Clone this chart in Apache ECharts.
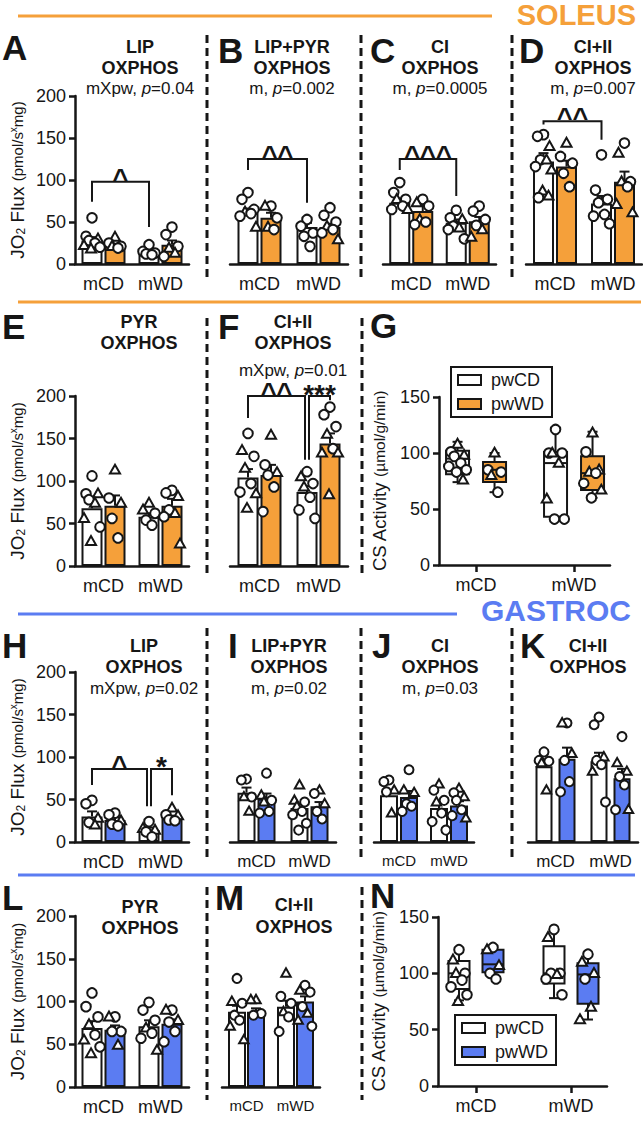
<!DOCTYPE html>
<html>
<head>
<meta charset="utf-8">
<script src="https://cdn.jsdelivr.net/npm/echarts@6/dist/echarts.min.js"></script>
<style>
  html, body { margin: 0; background: #fff; }
  #chart { width: 643px; height: 1121px; }
</style>
</head>
<body>
<div id="chart"></div>
<script>
const FONT = '"Liberation Sans", Arial, Helvetica, sans-serif';
const INK = '#161616';
const ORANGE = '#F5A03A';
const BLUE = '#5B7CF2';

const groups = ['mCD', 'mWD'];
const diets = ['pwCD', 'pwWD'];
// every array below is ordered [mCD-pwCD, mCD-pwWD, mWD-pwCD, mWD-pwWD]

// ---- SOLEUS ----
const aMean = [28, 21, 14, 23];
const aSem = [4, 3, 2, 5];
const aCirc = [[55, 33, 28, 25, 20], [25, 19, 21], [23, 13, 12, 15, 11], [44, 35, 21, 9]];
const aTri = [[30, 22, 18], [32, 21], [], [19, 13]];

const bMean = [61, 55, 44, 44];
const bSem = [5, 6, 5, 4];
const bCirc = [[85, 77, 65, 60, 57], [69, 55, 41], [53, 45, 37, 21, 33], [67, 58, 50, 41, 37]];
const bTri = [[62, 44], [69, 44], [], [29, 45]];

const cMean = [73, 63, 49, 51];
const cSem = [5, 6, 4, 5];
const cCirc = [[97, 85, 77, 69, 65], [77, 69, 47, 50], [64, 55, 45, 41, 30], [69, 63, 53, 46]];
const cTri = [[77, 65], [73, 53], [53, 43], [41, 32]];

const dMean = [122, 116, 72, 98];
const dSem = [10, 7, 9, 12];
const dCirc = [[154, 152, 124, 116, 79], [128, 120, 108, 92], [130, 88, 77, 73, 59, 57, 48], [144, 98, 92]];
const dTri = [[140, 124, 112, 87, 81], [144], [], [132, 98, 71, 61]];

const eMean = [68, 71, 58, 71];
const eSem = [8, 12, 4, 8];
const eCirc = [[106, 85, 78, 46], [80, 56, 33], [62, 54, 48], [89, 86, 66, 58]];
const eTri = [[85, 74, 56, 29], [113, 74], [74, 66], [82, 62, 26]];

const fMean = [104, 107, 87, 144];
const fSem = [10, 12, 7, 12];
const fCirc = [[156, 129, 97, 87], [119, 107, 93, 64], [111, 97, 81, 66, 56], [187, 178, 164, 138]];
const fTri = [[136, 115, 85, 68], [154, 110], [105, 93], [155, 133, 133, 84]];

// CS activity boxes: [min, q1, median, q3, max]
const gBox = [[74, 81, 95, 102, 110], [65, 74, 85, 92, 100], [40, 43, 91, 101, 121], [60, 67, 82, 97, 119]];
const gCirc = [[101, 97, 91, 85, 83, 88], [85, 83, 65], [121, 100, 100, 41, 41], [101, 82, 73, 60]];
const gTri = [[108, 98, 76], [100, 80], [100, 59, 91], [118, 85, 83, 67]];

// ---- GASTROC ----
const hMean = [30, 26, 14, 28];
const hSem = [6, 3, 3, 3];
const hCirc = [[49, 45, 23], [34, 32, 21, 19], [24, 12, 6], [26, 25, 32]];
const hTri = [[28, 20], [25], [16, 14], [40, 31]];

const iMean = [58, 51, 40, 42];
const iSem = [6, 6, 5, 5];
const iCirc = [[74, 73, 53], [81, 49, 36, 34], [47, 36, 32, 22, 14], [57, 36, 27]];
const iTri = [[53, 36], [55, 47], [67, 49, 42], [61, 45]];

const jMean = [55, 53, 40, 43];
const jSem = [6, 7, 6, 5];
const jCirc = [[73, 71, 59], [85, 45, 36, 42], [61, 49, 24, 14, 34], [58, 49, 38, 31]];
const jTri = [[61, 34], [61, 58], [68, 47], [63, 28, 53]];

const kMean = [89, 98, 95, 75];
const kSem = [6, 13, 10, 11];
const kCirc = [[106, 96, 95], [140, 96, 71, 59], [147, 138, 96, 91, 47], [124, 77, 67, 38]];
const kTri = [[93, 61], [140, 104], [83, 100], [93, 83, 38]];

const lMean = [69, 67, 71, 74];
const lSem = [8, 5, 7, 5];
const lCirc = [[110, 94, 82, 61, 47], [82, 65, 65], [99, 90, 78, 63, 57], [90, 76, 65, 53]];
const lTri = [[73, 55, 39], [82, 49], [43, 69], [90, 78]];

const mMean = [88, 88, 94, 100];
const mSem = [7, 4, 7, 6];
const mCirc = [[127, 98, 84, 78], [86, 84], [106, 98, 82, 65], [119, 111, 94, 71]];
const mTri = [[100, 71, 55], [102, 102], [133, 88], [113, 86, 78]];

const nBox = [[76, 86, 100, 111, 121], [98, 101, 108, 121, 123], [78, 91, 100, 124, 139], [59, 73, 99, 109, 117]];
const nCirc = [[121, 100, 94, 88, 81], [123, 100, 95], [139, 100, 100, 95, 81], [117, 95]];
const nTri = [[112, 100, 75], [121, 107], [132, 99], [110, 100, 70, 59]];

// significance brackets: [fromGroup, toGroup, top, leftEnd, rightEnd, nudgeL, nudgeR, label]
const aSig = [[0, 2, 98, 74, 44, 0, 0, '^']];
const bSig = [[0, 2, 125, 112, 73, 0, 0, '^^']];
const cSig = [[0, 2, 125, 112, 81, 0, 0, '^^^']];
const dSig = [[0, 2, 170, 166, 148, 0, 0, '^^']];
const fSig = [[0, 2, 200, 174, 125, 0, -2, '^^'], [2, 3, 200, 125, 195, 2, 0, '***']];
const hSig = [[0, 2, 86, 67, 42, 0, -2, '^'], [2, 3, 86, 42, 55, 2, 0, '*']];

// ---- layout ----
const barPanels = [
  { mean: aMean, sem: aSem, circ: aCirc, tri: aTri, sig: aSig, fill: ORANGE, left: 75, top: 96, width: 114, height: 168, bw: 21, gap: 2, lab: 18, r: 4.8, axis: true },
  { mean: bMean, sem: bSem, circ: bCirc, tri: bTri, sig: bSig, fill: ORANGE, left: 230, top: 96, width: 118, height: 168, bw: 21, gap: 2, lab: 18, r: 4.8 },
  { mean: cMean, sem: cSem, circ: cCirc, tri: cTri, sig: cSig, fill: ORANGE, left: 383, top: 96, width: 113, height: 168, bw: 21, gap: 2, lab: 18, r: 4.8 },
  { mean: dMean, sem: dSem, circ: dCirc, tri: dTri, sig: dSig, fill: ORANGE, left: 526, top: 96, width: 116, height: 168, bw: 21, gap: 2, lab: 18, r: 4.8 },
  { mean: eMean, sem: eSem, circ: eCirc, tri: eTri, fill: ORANGE, left: 75, top: 396, width: 114, height: 170, bw: 21, gap: 2, lab: 18, r: 4.8, axis: true },
  { mean: fMean, sem: fSem, circ: fCirc, tri: fTri, sig: fSig, fill: ORANGE, left: 230, top: 396, width: 118, height: 170, bw: 21, gap: 2, lab: 18, r: 4.8 },
  { mean: hMean, sem: hSem, circ: hCirc, tri: hTri, sig: hSig, fill: BLUE, left: 75, top: 672, width: 114, height: 170, bw: 21, gap: 2, lab: 18, r: 4.8, axis: true },
  { mean: iMean, sem: iSem, circ: iCirc, tri: iTri, fill: BLUE, left: 230, top: 672, width: 106, height: 170, bw: 18, gap: 2, lab: 17, r: 4.5 },
  { mean: jMean, sem: jSem, circ: jCirc, tri: jTri, fill: BLUE, left: 374, top: 672, width: 100, height: 170, bw: 18, gap: 2, lab: 15, r: 4.5 },
  { mean: kMean, sem: kSem, circ: kCirc, tri: kTri, fill: BLUE, left: 528, top: 672, width: 110, height: 170, bw: 17, gap: 6, lab: 17, r: 4.5 },
  { mean: lMean, sem: lSem, circ: lCirc, tri: lTri, fill: BLUE, left: 75, top: 916, width: 114, height: 171, bw: 21, gap: 2, lab: 18, r: 4.8, axis: true },
  { mean: mMean, sem: mSem, circ: mCirc, tri: mTri, fill: BLUE, left: 222, top: 916, width: 98, height: 171, bw: 18, gap: 1, lab: 15, r: 4.5 }
];
const boxPanels = [
  { box: gBox, circ: gCirc, tri: gTri, fill: ORANGE, left: 439, top: 397, width: 171, height: 168, xmin: -0.378, xmax: 1.367, bw: 23, gap: 14, r: 4.8,
    legend: { left: 451, top: 367 } },
  { box: nBox, circ: nCirc, tri: nTri, fill: BLUE, left: 438, top: 917, width: 169, height: 169, xmin: -0.4, xmax: 1.379, bw: 21, gap: 13, r: 4.8,
    legend: { left: 455, top: 1015 } }
];

const JIT = [0, -6, 6, -3, 3, -8, 8, -1, 5, -5];
const lineStyle = { stroke: INK, lineWidth: 2 };

function offsetOf(p, diet) {
  const off = (p.bw + p.gap) / 2;
  return diet ? off : -off;
}

function pointData(p) {
  const out = [];
  for (let g = 0; g < 4; g++) {
    const list = p.circ[g].map(v => [v, 0]).concat(p.tri[g].map(v => [v, 1]));
    list.sort((u, v) => v[0] - u[0]);
    list.forEach((d, j) => out.push([g >> 1, d[0], g & 1, d[1], j]));
  }
  return out;
}

function renderPoint(p) {
  return function (params, api) {
    const c = api.coord([api.value(0), api.value(1)]);
    const x = c[0] + offsetOf(p, api.value(2)) + JIT[api.value(4) % JIT.length] * p.bw / 21;
    const y = c[1], r = p.r;
    const style = { fill: '#fff', stroke: INK, lineWidth: 2 };
    if (api.value(3)) {
      return { type: 'polygon', shape: { points: [[x, y - r * 1.1], [x - r * 1.05, y + r * 0.75], [x + r * 1.05, y + r * 0.75]] }, style };
    }
    return { type: 'circle', shape: { cx: x, cy: y, r: r }, style };
  };
}

function renderErr(p) {
  return function (params, api) {
    const cat = api.value(0), mean = api.value(1), sem = api.value(2);
    const a = api.coord([cat, mean]), b = api.coord([cat, mean + sem]);
    const x = a[0] + offsetOf(p, api.value(3));
    const cap = 5;
    return { type: 'group', children: [
      { type: 'line', shape: { x1: x, y1: a[1], x2: x, y2: b[1] }, style: lineStyle },
      { type: 'line', shape: { x1: x - cap, y1: b[1], x2: x + cap, y2: b[1] }, style: lineStyle }
    ] };
  };
}

function renderSig(p) {
  return function (params, api) {
    const s = p.sig[params.dataIndex];
    const x1 = api.coord([s[0] >> 1, 0])[0] + offsetOf(p, s[0] & 1) + s[5];
    const x2 = api.coord([s[1] >> 1, 0])[0] + offsetOf(p, s[1] & 1) + s[6];
    const yt = api.coord([0, s[2]])[1], yl = api.coord([0, s[3]])[1], yr = api.coord([0, s[4]])[1];
    const star = s[7][0] === '*';
    return { type: 'group', children: [
      { type: 'polyline', shape: { points: [[x1, yl], [x1, yt], [x2, yt], [x2, yr]] }, style: { stroke: INK, lineWidth: 2, fill: null } },
      { type: 'text', x: (x1 + x2) / 2, y: yt - (star ? 2 : 3),
        style: { text: s[7], fill: INK, font: 'bold ' + (star ? 28 : 27) + 'px ' + FONT, align: 'center', verticalAlign: 'middle' } }
    ] };
  };
}

function renderBox(p, diet, fill) {
  return function (params, api) {
    const cat = api.value(0);
    const v = [1, 2, 3, 4, 5].map(i => api.coord([cat, api.value(i)]));
    const x = v[0][0] + offsetOf(p, diet), hw = p.bw / 2, cw = 5;
    return { type: 'group', children: [
      { type: 'line', shape: { x1: x, y1: v[0][1], x2: x, y2: v[1][1] }, style: lineStyle },
      { type: 'line', shape: { x1: x, y1: v[3][1], x2: x, y2: v[4][1] }, style: lineStyle },
      { type: 'line', shape: { x1: x - cw, y1: v[0][1], x2: x + cw, y2: v[0][1] }, style: lineStyle },
      { type: 'line', shape: { x1: x - cw, y1: v[4][1], x2: x + cw, y2: v[4][1] }, style: lineStyle },
      { type: 'rect', shape: { x: x - hw, y: v[3][1], width: p.bw, height: v[1][1] - v[3][1] }, style: { fill: fill, stroke: INK, lineWidth: 2 } },
      { type: 'line', shape: { x1: x - hw, y1: v[2][1], x2: x + hw, y2: v[2][1] }, style: lineStyle }
    ] };
  };
}

const fluxName = '{a|JO}{s|2}{a| Flux }{b|(pmol/s}{x|x}{b|mg)}';
const fluxRich = {
  a: { fontSize: 19, fontFamily: FONT, color: INK },
  s: { fontSize: 12, fontFamily: FONT, color: INK, verticalAlign: 'bottom' },
  b: { fontSize: 15, fontFamily: FONT, color: INK },
  x: { fontSize: 10, fontFamily: FONT, color: INK, verticalAlign: 'top' }
};
const csName = '{a|CS Activity }{b|(µmol/g/min)}';
const csRich = {
  a: { fontSize: 18.5, fontFamily: FONT, color: INK },
  b: { fontSize: 15.5, fontFamily: FONT, color: INK }
};

function yAxisFor(k, max, show, name, rich, gap) {
  return {
    type: 'value', gridIndex: k, min: 0, max: max, interval: 50, show: !!show,
    axisLine: { show: true, onZero: false, lineStyle: { color: INK, width: 2.5 } },
    axisTick: { show: true, length: 6, lineStyle: { color: INK, width: 2.5 } },
    axisLabel: { color: INK, fontSize: 18, fontFamily: FONT, margin: 9 },
    splitLine: { show: false },
    name: name, nameLocation: 'middle', nameRotate: 90, nameGap: gap,
    nameTextStyle: { color: INK, rich: rich }
  };
}

const option = {
  animation: false,
  textStyle: { fontFamily: FONT },
  grid: [], xAxis: [], yAxis: [], series: [], legend: []
};

barPanels.forEach(function (p) {
  const k = option.grid.length;
  option.grid.push({ left: p.left, top: p.top, width: p.width, height: p.height, outerBoundsMode: 'none' });
  option.xAxis.push({
    type: 'category', gridIndex: k, data: groups,
    axisLine: { onZero: false, lineStyle: { color: INK, width: 2.5 } },
    axisTick: { alignWithLabel: true, interval: 0, length: 7, lineStyle: { color: INK, width: 2.5 } },
    axisLabel: { interval: 0, hideOverlap: false, color: INK, fontSize: p.lab, fontFamily: FONT, margin: 11 },
    splitLine: { show: false }
  });
  option.yAxis.push(yAxisFor(k, 200, p.axis, p.axis ? fluxName : '', fluxRich, 48));
  const common = { xAxisIndex: k, yAxisIndex: k, silent: true };
  option.series.push(
    Object.assign({ type: 'bar', name: diets[0], data: [p.mean[0], p.mean[2]], barWidth: p.bw, barGap: (100 * p.gap / p.bw) + '%',
      itemStyle: { color: '#fff', borderColor: INK, borderWidth: 2 }, z: 2 }, common),
    Object.assign({ type: 'bar', name: diets[1], data: [p.mean[1], p.mean[3]], barWidth: p.bw, barGap: (100 * p.gap / p.bw) + '%',
      itemStyle: { color: p.fill, borderColor: INK, borderWidth: 2 }, z: 2 }, common),
    Object.assign({ type: 'custom', name: 'sem', data: p.mean.map((m, g) => [g >> 1, m, p.sem[g], g & 1]),
      encode: { x: 0, y: 1 }, renderItem: renderErr(p), z: 3 }, common),
    Object.assign({ type: 'custom', name: 'points', data: pointData(p),
      encode: { x: 0, y: 1 }, renderItem: renderPoint(p), z: 4 }, common)
  );
  if (p.sig) {
    option.series.push(Object.assign({ type: 'custom', name: 'sig', data: p.sig.map(s => [s[0] >> 1, s[2]]),
      encode: { x: 0, y: 1 }, renderItem: renderSig(p), z: 5 }, common));
  }
});

boxPanels.forEach(function (p) {
  const k = option.grid.length;
  option.grid.push({ left: p.left, top: p.top, width: p.width, height: p.height, outerBoundsMode: 'none' });
  option.xAxis.push({
    type: 'value', gridIndex: k, min: p.xmin, max: p.xmax,
    axisLine: { onZero: false, lineStyle: { color: INK, width: 2.5 } },
    axisTick: { customValues: [0, 1], length: 7, lineStyle: { color: INK, width: 2.5 } },
    axisLabel: { customValues: [0, 1], formatter: v => groups[Math.round(v)], color: INK, fontSize: 18, fontFamily: FONT, margin: 11 },
    splitLine: { show: false }
  });
  option.yAxis.push(yAxisFor(k, 150, true, csName, csRich, 50));
  const common = { xAxisIndex: k, yAxisIndex: k, silent: true };
  [0, 1].forEach(function (diet) {
    option.series.push(Object.assign({ type: 'custom', name: diets[diet],
      data: [[0].concat(p.box[diet]), [1].concat(p.box[2 + diet])],
      encode: { x: 0, y: [1, 2, 3, 4, 5] }, renderItem: renderBox(p, diet, diet ? p.fill : '#fff'), z: 2 }, common));
  });
  option.series.push(Object.assign({ type: 'custom', name: 'points', data: pointData(p),
    encode: { x: 0, y: 1 }, renderItem: renderPoint(p), z: 4 }, common));
  option.legend.push({
    left: p.legend.left, top: p.legend.top, orient: 'vertical', icon: 'rect',
    itemWidth: 23, itemHeight: 10, itemGap: 6, padding: [4, 8, 4, 6],
    borderColor: INK, borderWidth: 2, selectedMode: false, formatter: ' {name}',
    textStyle: { fontSize: 18, color: INK, fontFamily: FONT },
    data: [
      { name: 'pwCD', itemStyle: { color: '#fff', borderColor: INK, borderWidth: 2 } },
      { name: 'pwWD', itemStyle: { color: p.fill, borderColor: INK, borderWidth: 2 } }
    ]
  });
});

// ---- decorations ----
const titles = [
  [140, 47, 'LIP', 'h'], [140, 68, 'OXPHOS', 'h'], [140, 88, 'mXpw, {i|p}=0.04', 's'],
  [292, 47, 'LIP+PYR', 'h'], [292, 68, 'OXPHOS', 'h'], [292, 88, 'm, {i|p}=0.002', 's'],
  [440, 47, 'CI', 'h'], [440, 68, 'OXPHOS', 'h'], [440, 88, 'm, {i|p}=0.0005', 's'],
  [593, 47, 'CI+II', 'h'], [593, 68, 'OXPHOS', 'h'], [593, 88, 'm, {i|p}=0.007', 's'],
  [139, 322, 'PYR', 'h'], [139, 343, 'OXPHOS', 'h'],
  [293, 322, 'CI+II', 'h'], [293, 343, 'OXPHOS', 'h'], [293, 370, 'mXpw, {i|p}=0.01', 's'],
  [144, 646, 'LIP', 'h'], [144, 667, 'OXPHOS', 'h'], [144, 688, 'mXpw, {i|p}=0.02', 's'],
  [289, 646, 'LIP+PYR', 'h'], [289, 667, 'OXPHOS', 'h'], [289, 688, 'm, {i|p}=0.02', 's'],
  [440, 646, 'CI', 'h'], [440, 667, 'OXPHOS', 'h'], [440, 688, 'm, {i|p}=0.03', 's'],
  [588, 646, 'CI+II', 'h'], [588, 667, 'OXPHOS', 'h'],
  [140, 907, 'PYR', 'h'], [140, 928, 'OXPHOS', 'h'],
  [294, 905, 'CI+II', 'h'], [294, 927, 'OXPHOS', 'h']
];
const letters = [
  [2, 47, 'A'], [218, 50, 'B'], [370, 50, 'C'], [519, 50, 'D'],
  [2, 326, 'E'], [218, 326, 'F'], [370, 325, 'G'],
  [2, 645, 'H'], [228, 645, 'I'], [372, 645, 'J'], [520, 645, 'K'],
  [2, 897, 'L'], [215, 897, 'M'], [370, 895, 'N']
];
const rules = [[18, 492, 16, ORANGE], [18, 641, 302, ORANGE], [18, 457, 614, BLUE], [18, 635, 875, BLUE]];
const dashes = [
  [207, 35, 280], [361, 35, 280], [512, 35, 280],
  [207, 318, 578], [362, 318, 578],
  [207, 628, 862], [361, 628, 862], [512, 628, 862],
  [207, 887, 1100], [362, 887, 1100]
];

const graphics = [];
rules.forEach(r => graphics.push({ type: 'line', shape: { x1: r[0], y1: r[2], x2: r[1], y2: r[2] }, style: { stroke: r[3], lineWidth: 3 } }));
dashes.forEach(d => graphics.push({ type: 'line', shape: { x1: d[0], y1: d[1], x2: d[0], y2: d[2] }, style: { stroke: INK, lineWidth: 3, lineDash: [8, 5] } }));
graphics.push(
  { type: 'text', x: 636, y: 15, style: { text: 'SOLEUS', fill: ORANGE, font: 'bold 29px ' + FONT, align: 'right', verticalAlign: 'middle' } },
  { type: 'text', x: 631, y: 610, style: { text: 'GASTROC', fill: BLUE, font: 'bold 30px ' + FONT, align: 'right', verticalAlign: 'middle' } }
);
letters.forEach(l => graphics.push({ type: 'text', x: l[0], y: l[1], style: { text: l[2], fill: INK, font: 'bold 35px ' + FONT, align: 'left', verticalAlign: 'middle' } }));
titles.forEach(t => graphics.push({ type: 'text', x: t[0], y: t[1], style: {
  text: t[2], fill: INK, align: 'center', verticalAlign: 'middle',
  font: (t[3] === 'h' ? 'bold 18px ' : '17px ') + FONT,
  rich: { i: { font: 'italic 17px ' + FONT, fill: INK } }
} }));
option.graphic = { elements: graphics };

const chart = echarts.init(document.getElementById('chart'), null, { renderer: 'svg' });
chart.setOption(option);
</script>
</body>
</html>
